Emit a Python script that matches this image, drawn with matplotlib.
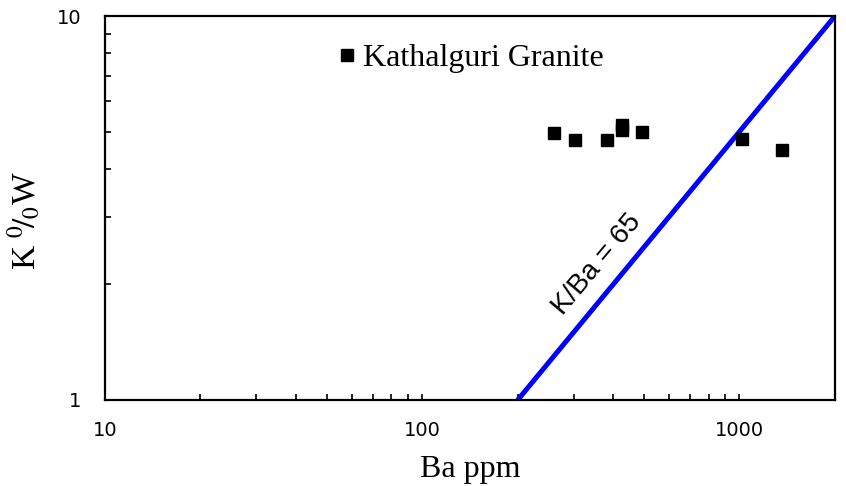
import matplotlib
matplotlib.use("Agg")
import matplotlib.pyplot as plt
from matplotlib.ticker import LogLocator, FixedLocator, FixedFormatter, NullFormatter

# Kathalguri Granite samples (Ba ppm, K wt%)
ba_ppm = [261, 304, 381, 425, 425, 494, 1021, 1365]
k_wt = [4.96, 4.75, 4.75, 5.20, 5.05, 4.99, 4.78, 4.48]

# K/Ba = 65 reference line
ref_ba = [200, 2000]
ref_k = [1, 10]

x_ticks = [10, 100, 1000]
y_ticks = [1, 10]

plt.rcParams["mathtext.fontset"] = "stix"
plt.rcParams["font.family"] = ["Liberation Sans", "DejaVu Sans"]

fig = plt.figure(figsize=(8.46, 4.86), dpi=100)
ax = fig.add_axes([0.124, 0.177, 0.863, 0.790])

ax.plot(ref_ba, ref_k, color="#0000ff", linewidth=3.6, solid_capstyle="butt", zorder=2)
ax.plot(ba_ppm, k_wt, linestyle="none", marker="s", markersize=9,
        color="black", label="Kathalguri Granite", zorder=3)

ax.set_xscale("log")
ax.set_yscale("log")
ax.set_xlim(10, 2000)
ax.set_ylim(1, 10)

ax.xaxis.set_major_locator(FixedLocator(x_ticks))
ax.xaxis.set_major_formatter(FixedFormatter([str(v) for v in x_ticks]))
ax.xaxis.set_minor_locator(LogLocator(base=10, subs=range(2, 10)))
ax.xaxis.set_minor_formatter(NullFormatter())
ax.yaxis.set_major_locator(FixedLocator(y_ticks))
ax.yaxis.set_major_formatter(FixedFormatter([str(v) for v in y_ticks]))
ax.yaxis.set_minor_locator(LogLocator(base=10, subs=range(2, 10)))
ax.yaxis.set_minor_formatter(NullFormatter())

ax.tick_params(axis="both", which="both", direction="in", length=4, width=1.2,
               labelsize=14, labelfontfamily="DejaVu Sans")
ax.tick_params(axis="x", which="major", pad=15)
ax.tick_params(axis="y", which="major", pad=17)
for s in ax.spines.values():
    s.set_linewidth(1.6)

ax.set_xlabel("Ba ppm", fontfamily="Liberation Serif", fontsize=23, labelpad=11)
ax.set_ylabel(r"K $^{0}\!/_{0}$W", fontfamily="Liberation Serif", fontsize=24)
ax.yaxis.set_label_coords(-0.085, 0.466)

ax.text(357, 2.26, "K/Ba = 65", rotation=50, rotation_mode="anchor",
        ha="center", va="center", fontsize=20)

ax.legend(loc="center left", bbox_to_anchor=(0.319, 0.89), frameon=False,
          handlelength=0.55, handletextpad=0.25, borderpad=0, borderaxespad=0,
          prop={"family": "Liberation Serif", "size": 23})

fig.savefig("out.png", dpi=100)
